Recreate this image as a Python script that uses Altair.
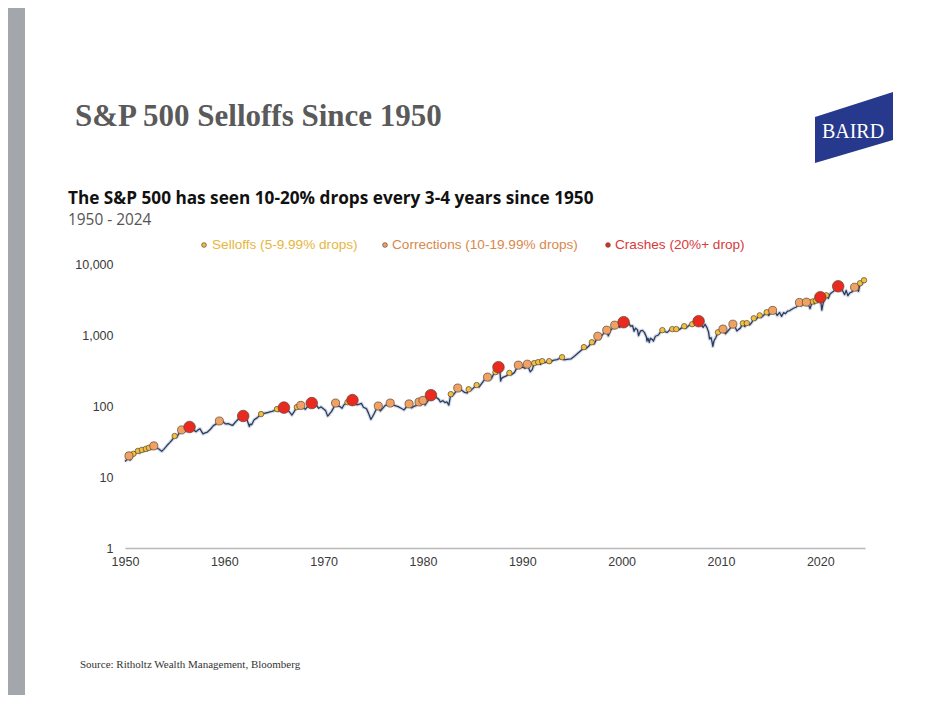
import altair as alt
import pandas as pd

# ---------------- data ----------------
line_years = [
    1950.0, 1950.2, 1950.4, 1950.5, 1950.6, 1950.85, 1951.0, 1951.3, 1951.5, 1951.7,
    1951.9, 1952.1, 1952.25, 1952.4, 1952.6, 1952.9, 1953.1, 1953.4, 1953.7, 1953.9,
    1954.2, 1954.5, 1954.8, 1955.0, 1955.2, 1955.45, 1955.7, 1955.85, 1956.1, 1956.3,
    1956.5, 1956.6, 1956.8, 1957.0, 1957.15, 1957.4, 1957.55, 1957.7, 1957.85, 1958.0,
    1958.3, 1958.6, 1958.9, 1959.2, 1959.5, 1959.7, 1959.9, 1960.1, 1960.4, 1960.7,
    1960.85, 1961.1, 1961.4, 1961.7, 1961.9, 1962.1, 1962.3, 1962.45, 1962.52, 1962.6,
    1962.75, 1963.0, 1963.3, 1963.7, 1964.0, 1964.4, 1964.8, 1965.1, 1965.3, 1965.45,
    1965.7, 1966.0, 1966.2, 1966.5, 1966.7, 1966.8, 1967.0, 1967.3, 1967.5, 1967.7,
    1967.9, 1968.15, 1968.4, 1968.8, 1969.0, 1969.3, 1969.5, 1969.75, 1970.0, 1970.2,
    1970.4, 1970.55, 1970.8, 1971.0, 1971.2, 1971.4, 1971.6, 1971.85, 1972.05, 1972.4,
    1972.6, 1972.9, 1973.1, 1973.35, 1973.6, 1973.8, 1974.0, 1974.3, 1974.5, 1974.75,
    1974.9, 1975.1, 1975.3, 1975.5, 1975.7, 1975.9, 1976.2, 1976.5, 1976.7, 1976.9,
    1977.2, 1977.5, 1977.8, 1978.1, 1978.3, 1978.6, 1978.85, 1979.1, 1979.3, 1979.6,
    1979.8, 1980.0, 1980.2, 1980.5, 1980.8, 1981.0, 1981.3, 1981.6, 1981.75, 1982.0,
    1982.2, 1982.4, 1982.6, 1982.8, 1982.95, 1983.2, 1983.5, 1983.7, 1983.9, 1984.2,
    1984.45, 1984.6, 1984.8, 1985.1, 1985.4, 1985.65, 1985.9, 1986.2, 1986.5, 1986.7,
    1986.9, 1987.1, 1987.3, 1987.45, 1987.6, 1987.75, 1987.82, 1987.9, 1988.1, 1988.4,
    1988.7, 1988.9, 1989.2, 1989.6, 1989.8, 1990.0, 1990.3, 1990.5, 1990.65, 1990.8,
    1991.0, 1991.2, 1991.4, 1991.6, 1991.85, 1992.0, 1992.3, 1992.7, 1992.85, 1993.1,
    1993.5, 1994.0, 1994.2, 1994.5, 1994.9, 1995.3, 1995.7, 1996.0, 1996.2, 1996.4,
    1996.7, 1997.0, 1997.25, 1997.6, 1997.8, 1998.0, 1998.3, 1998.5, 1998.65, 1998.9,
    1999.1, 1999.3, 1999.5, 1999.7, 1999.8, 2000.0, 2000.2, 2000.3, 2000.5, 2000.7,
    2000.9, 2001.1, 2001.25, 2001.4, 2001.6, 2001.7, 2001.9, 2002.1, 2002.3, 2002.5,
    2002.55, 2002.65, 2002.78, 2002.9, 2003.1, 2003.2, 2003.4, 2003.7, 2004.0, 2004.1,
    2004.4, 2004.6, 2004.9, 2005.1, 2005.3, 2005.5, 2005.8, 2006.1, 2006.3, 2006.45,
    2006.8, 2007.1, 2007.15, 2007.4, 2007.55, 2007.65, 2007.75, 2007.9, 2008.1, 2008.2,
    2008.4, 2008.6, 2008.75, 2008.85, 2009.0, 2009.1, 2009.18, 2009.3, 2009.5, 2009.7,
    2009.9, 2010.2, 2010.45, 2010.7, 2010.9, 2011.2, 2011.4, 2011.6, 2011.75, 2011.95,
    2012.2, 2012.4, 2012.6, 2012.9, 2013.1, 2013.3, 2013.5, 2013.9, 2014.05, 2014.3,
    2014.6, 2014.8, 2015.0, 2015.2, 2015.5, 2015.65, 2015.9, 2016.1, 2016.3, 2016.5,
    2016.7, 2016.9, 2017.3, 2017.6, 2017.9, 2018.1, 2018.4, 2018.6, 2018.8, 2018.97,
    2019.2, 2019.4, 2019.55, 2019.7, 2020.0, 2020.15, 2020.3, 2020.45, 2020.6, 2020.8,
    2021.0, 2021.3, 2021.6, 2021.8, 2021.95, 2022.2, 2022.45, 2022.6, 2022.78, 2022.95,
    2023.2, 2023.45, 2023.7, 2023.85, 2024.0, 2024.2, 2024.4,
]
line_values = [
    16.5, 17.6, 19.8, 17.3, 17.8, 21.2, 21.0, 23.3, 21.8, 24.1,
    23.0, 24.9, 23.6, 25.8, 24.6, 27.4, 26.0, 24.8, 23.0, 24.5,
    27.5, 30.5, 34.0, 37.8, 36.0, 41.5, 46.0, 44.0, 44.5, 48.0,
    50.6, 47.5, 46.0, 45.0, 43.5, 46.5, 47.8, 44.0, 40.5, 41.5,
    43.0, 47.0, 53.0, 56.0, 61.5, 57.5, 59.5, 56.0, 56.5, 54.0,
    53.5, 59.0, 65.0, 67.0, 72.3, 69.0, 63.0, 55.0, 51.5, 55.5,
    54.5, 64.0, 68.0, 77.0, 79.0, 81.0, 84.0, 87.0, 90.5, 84.5,
    89.0, 95.0, 89.0, 84.0, 78.0, 74.5, 82.0, 96.5, 93.0, 102.0,
    95.0, 90.0, 99.0, 110.0, 103.0, 101.0, 93.0, 97.0, 91.0, 86.0,
    72.0, 76.0, 84.0, 95.0, 110.0, 100.0, 99.0, 93.0, 104.0, 113.0,
    108.0, 121.0, 114.0, 104.0, 106.0, 109.0, 96.0, 92.0, 80.0, 65.0,
    70.0, 79.0, 90.0, 100.0, 85.0, 91.0, 102.0, 104.0, 110.0, 103.0,
    101.0, 98.0, 93.0, 88.0, 96.0, 107.0, 94.0, 99.0, 101.0, 114.0,
    104.0, 120.0, 103.0, 118.0, 142.0, 132.0, 133.0, 124.0, 114.0, 119.0,
    112.0, 114.0, 103.0, 147.0, 138.0, 152.0, 179.0, 165.0, 167.0, 155.0,
    152.0, 172.0, 165.0, 180.0, 197.0, 185.0, 207.0, 235.0, 255.0, 232.0,
    245.0, 280.0, 300.0, 290.0, 352.0, 300.0, 225.0, 245.0, 255.0, 265.0,
    292.0, 275.0, 295.0, 376.0, 345.0, 352.0, 340.0, 388.0, 340.0, 303.0,
    325.0, 402.0, 385.0, 415.0, 385.0, 428.0, 408.0, 428.0, 410.0, 440.0,
    450.0, 486.0, 445.0, 455.0, 460.0, 510.0, 570.0, 620.0, 675.0, 640.0,
    700.0, 790.0, 750.0, 960.0, 875.0, 980.0, 1100.0, 1170.0, 970.0, 1170.0,
    1250.0, 1375.0, 1290.0, 1330.0, 1280.0, 1450.0, 1515.0, 1380.0, 1480.0, 1470.0,
    1330.0, 1350.0, 1130.0, 1250.0, 1180.0, 980.0, 1140.0, 1160.0, 1080.0, 930.0,
    820.0, 900.0, 790.0, 900.0, 860.0, 820.0, 960.0, 1000.0, 1150.0, 1170.0,
    1110.0, 1090.0, 1200.0, 1210.0, 1160.0, 1210.0, 1190.0, 1280.0, 1330.0, 1240.0,
    1370.0, 1420.0, 1390.0, 1500.0, 1520.0, 1420.0, 1565.0, 1440.0, 1330.0, 1280.0,
    1410.0, 1260.0, 1100.0, 880.0, 920.0, 800.0, 690.0, 830.0, 930.0, 1090.0,
    1110.0, 1210.0, 1040.0, 1140.0, 1230.0, 1420.0, 1320.0, 1140.0, 1190.0, 1250.0,
    1460.0, 1310.0, 1470.0, 1390.0, 1500.0, 1720.0, 1630.0, 1890.0, 1760.0, 1900.0,
    2090.0, 1880.0, 2060.0, 2220.0, 2080.0, 1880.0, 2080.0, 1830.0, 2060.0, 2000.0,
    2170.0, 2190.0, 2380.0, 2480.0, 2870.0, 2580.0, 2760.0, 2900.0, 2700.0, 2350.0,
    2960.0, 2750.0, 3050.0, 2900.0, 3400.0, 2240.0, 2850.0, 3150.0, 3620.0, 3280.0,
    3800.0, 4100.0, 4450.0, 4850.0, 4700.0, 4300.0, 3700.0, 4250.0, 3580.0, 3900.0,
    4050.0, 4700.0, 4300.0, 4120.0, 5350.0, 5200.0, 5900.0,
]

# S = selloff (5-9.99%), C = correction (10-19.99%), X = crash (20%+)
dot_years = [
    1950.4, 1950.85, 1951.3, 1951.7, 1952.1, 1952.4, 1952.9, 1955.0, 1955.7, 1956.5,
    1959.5, 1961.9, 1963.7, 1965.3, 1966.0, 1967.3, 1967.7, 1968.8, 1971.2, 1972.4,
    1972.9, 1975.5, 1976.7, 1978.6, 1979.6, 1980.0, 1980.8, 1982.8, 1983.5, 1984.6,
    1985.4, 1986.5, 1987.3, 1987.6, 1988.7, 1989.6, 1990.5, 1991.2, 1991.6, 1992.0,
    1992.7, 1994.0, 1996.2, 1997.0, 1997.6, 1998.5, 1999.3, 2000.2, 2004.1, 2005.1,
    2005.5, 2006.3, 2007.1, 2007.75, 2009.7, 2010.2, 2011.2, 2012.2, 2012.6, 2013.3,
    2013.9, 2014.6, 2015.2, 2017.9, 2018.6, 2019.2, 2019.55, 2020.0, 2020.6, 2021.8,
    2023.45, 2024.0, 2024.4,
]
dot_values = [
    19.8, 21.2, 23.3, 24.1, 24.9, 25.8, 27.4, 37.8, 46.0, 50.6,
    61.5, 72.3, 77.0, 90.5, 95.0, 96.5, 102.0, 110.0, 110.0, 113.0,
    121.0, 100.0, 110.0, 107.0, 114.0, 120.0, 142.0, 147.0, 179.0, 172.0,
    197.0, 255.0, 300.0, 352.0, 292.0, 376.0, 388.0, 402.0, 415.0, 428.0,
    428.0, 486.0, 675.0, 790.0, 960.0, 1170.0, 1375.0, 1515.0, 1170.0, 1210.0,
    1210.0, 1330.0, 1420.0, 1565.0, 1090.0, 1210.0, 1420.0, 1460.0, 1470.0, 1720.0,
    1890.0, 2090.0, 2220.0, 2870.0, 2900.0, 2960.0, 3050.0, 3400.0, 3620.0, 4850.0,
    4700.0, 5350.0, 5900.0,
]
dot_kinds = [
    "C", "S", "S", "S", "S", "S", "C", "S", "C", "X",
    "C", "X", "S", "S", "X", "S", "C", "X", "C", "S",
    "X", "C", "C", "C", "C", "C", "X", "S", "C", "S",
    "S", "C", "S", "X", "S", "C", "C", "S", "S", "S",
    "S", "S", "S", "S", "C", "C", "C", "X", "S", "S",
    "S", "S", "S", "X", "S", "C", "C", "S", "S", "S",
    "S", "S", "C", "C", "C", "S", "S", "X", "S", "X",
    "C", "S", "S",
]

kind_codes = ["S", "C", "X"]
legend_labels = ["Selloffs (5-9.99% drops)", "Corrections (10-19.99% drops)", "Crashes (20%+ drop)"]
x_ticks = [1950, 1960, 1970, 1980, 1990, 2000, 2010, 2020]
y_ticks = [1, 10, 100, 1000, 10000]

title_text = "S&P 500 Selloffs Since 1950"
subtitle_text = "The S&P 500 has seen 10-20% drops every 3-4 years since 1950"
range_text = "1950 - 2024"
source_text = "Source: Ritholtz Wealth Management, Bloomberg"
logo_text = "BAIRD"

# ---------------- styling ----------------
fill_colors = {"S": "#efc13f", "C": "#f0a264", "X": "#e82a20"}
dot_sizes = {"S": 30, "C": 66, "X": 135}
legend_text_colors = ["#e6b640", "#d9884c", "#d8393a"]
legend_dot_x = [79, 260, 483]
legend_text_x = [87, 267, 490]

W, H = 740, 284
SANS = "Liberation Sans, Arial, sans-serif"

line_df = pd.DataFrame({"year": line_years, "value": line_values})
dot_df = pd.DataFrame({"year": dot_years, "value": dot_values, "kind": dot_kinds})

xs = alt.Scale(domain=[1950, 2024.5], nice=False, zero=False)
ys = alt.Scale(type="log", domain=[1, 10000], nice=False)

x_axis = alt.Axis(values=x_ticks, format="d", title=None, grid=False, ticks=False,
                  domainColor="#b8b8b8", domainWidth=1.6, labelPadding=7, labelFlush=False,
                  labelFont=SANS, labelFontSize=12.5, labelColor="#3a3a3a")
y_axis = alt.Axis(values=y_ticks, format=",", title=None, grid=False, ticks=False,
                  domain=False, labelPadding=12, labelFont=SANS, labelFlush=False,
                  labelFontSize=12.5, labelColor="#3a3a3a")

X = alt.X("year:Q", scale=xs, axis=x_axis)
Y = alt.Y("value:Q", scale=ys, axis=y_axis)

shadow = alt.Chart(line_df).mark_line(color="#8797b5", strokeWidth=3.6, opacity=0.35,
                                      strokeJoin="round").encode(x=X, y=Y)
line = alt.Chart(line_df).mark_line(color="#2b3b62", strokeWidth=1.3,
                                    strokeJoin="round").encode(x=X, y=Y)

dot_layers = []
for k in kind_codes:
    dot_layers.append(
        alt.Chart(dot_df).transform_filter(alt.datum.kind == k)
        .mark_point(filled=True, shape="circle", size=dot_sizes[k], color=fill_colors[k],
                    stroke="#5b4330", strokeWidth=0.7, opacity=1)
        .encode(x=X, y=Y)
    )

one = pd.DataFrame({"t": [""]})

def txt(text, x, y, **kw):
    return alt.Chart(one).mark_text(text=text, align=kw.pop("align", "left"),
                                    baseline=kw.pop("baseline", "alphabetic"), **kw
                                    ).encode(x=alt.value(x), y=alt.value(y))

frame = alt.Chart(one).mark_rect(color="#a3a7ab").encode(
    x=alt.value(-117), x2=alt.value(-100), y=alt.value(-256), y2=alt.value(431))

title = txt(title_text, -50, -138, font="Liberation Serif, Times New Roman, serif",
            fontSize=31, fontWeight="bold", color="#5a5a5a")
subtitle = txt(subtitle_text, -57, -60, font="Open Sans, Noto Sans, sans-serif",
               fontSize=17.2, fontWeight="bold", color="#111111")
rng = txt(range_text, -57, -39, font="Open Sans, Noto Sans, sans-serif",
          fontSize=15.4, color="#555555")
source = txt(source_text, -45, 404, font="Liberation Serif, Times New Roman, serif",
             fontSize=11, color="#333333")

logo_shape = "M -1 -0.27 L 1 -0.91 L 1 0.32 L -1 0.91 Z"
logo = alt.Chart(one).mark_point(shape=logo_shape, size=6084, filled=True,
                                 color="#26398c", opacity=1, strokeWidth=0).encode(
    x=alt.value(729), y=alt.value(-136.5))
logo_t = txt(logo_text, 728, -126, align="center",
             font="Liberation Serif, Times New Roman, serif", fontSize=20, color="#ffffff")

legend_layers = []
for i, k in enumerate(kind_codes):
    legend_layers.append(
        alt.Chart(one).mark_point(filled=True, shape="circle", size=22, color=fill_colors[k],
                                  stroke="#5b4330", strokeWidth=0.7, opacity=1)
        .encode(x=alt.value(legend_dot_x[i]), y=alt.value(-19))
    )
    legend_layers.append(
        txt(legend_labels[i], legend_text_x[i], -19, baseline="middle", font=SANS,
            fontSize=13.6, color=legend_text_colors[i])
    )

chart = alt.layer(
    frame, title, subtitle, rng, source, logo, logo_t, *legend_layers,
    shadow, line, *dot_layers,
).properties(
    width=W, height=H,
    padding={"left": 117, "top": 256, "right": 52, "bottom": 147},
    autosize=alt.AutoSizeParams(type="none"),
    background="#ffffff",
).configure_view(stroke=None)

chart.save("out.html", embed_options={"renderer": "svg", "actions": False})
